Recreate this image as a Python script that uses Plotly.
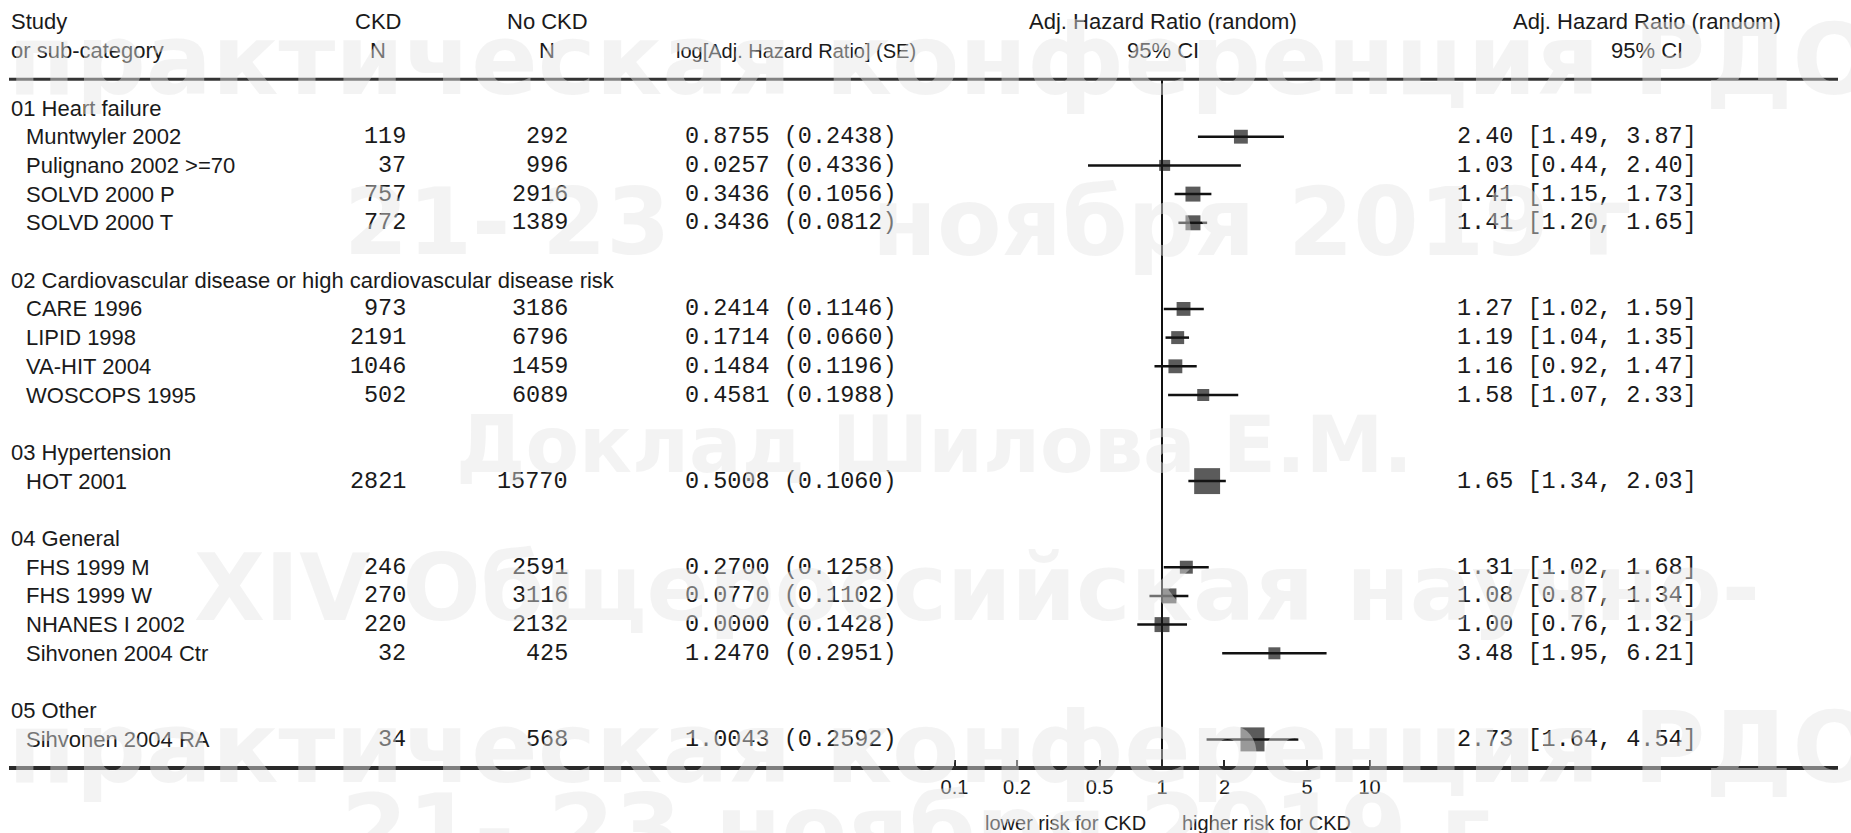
import plotly.graph_objects as go
import math

# ---------------- data ----------------
groups = [
    "01 Heart failure",
    "02 Cardiovascular disease or high cardiovascular disease risk",
    "03 Hypertension",
    "04 General",
    "05 Other",
]
study_group = [0, 0, 0, 0, 1, 1, 1, 1, 2, 3, 3, 3, 3, 4]
studies = [
    "Muntwyler 2002", "Pulignano 2002 >=70", "SOLVD 2000 P", "SOLVD 2000 T",
    "CARE 1996", "LIPID 1998", "VA-HIT 2004", "WOSCOPS 1995",
    "HOT 2001",
    "FHS 1999 M", "FHS 1999 W", "NHANES I 2002", "Sihvonen 2004 Ctr",
    "Sihvonen 2004 RA",
]
ckd_n = [119, 37, 757, 772, 973, 2191, 1046, 502, 2821, 246, 270, 220, 32, 34]
nockd_n = [292, 996, 2916, 1389, 3186, 6796, 1459, 6089, 15770, 2591, 3116, 2132, 425, 568]
log_hr = ["0.8755", "0.0257", "0.3436", "0.3436", "0.2414", "0.1714", "0.1484", "0.4581",
          "0.5008", "0.2700", "0.0770", "0.0000", "1.2470", "1.0043"]
log_se = ["0.2438", "0.4336", "0.1056", "0.0812", "0.1146", "0.0660", "0.1196", "0.1988",
          "0.1060", "0.1258", "0.1102", "0.1428", "0.2951", "0.2592"]
hr = [2.40, 1.03, 1.41, 1.41, 1.27, 1.19, 1.16, 1.58, 1.65, 1.31, 1.08, 1.00, 3.48, 2.73]
ci_low = [1.49, 0.44, 1.15, 1.20, 1.02, 1.04, 0.92, 1.07, 1.34, 1.02, 0.87, 0.76, 1.95, 1.64]
ci_high = [3.87, 2.40, 1.73, 1.65, 1.59, 1.35, 1.47, 2.33, 2.03, 1.68, 1.34, 1.32, 6.21, 4.54]
rel_weight = [12, 7.5, 14, 14, 12, 10.5, 12, 9, 42, 10.5, 14, 14, 9, 36]
axis_ticks = [0.1, 0.2, 0.5, 1, 2, 5, 10]
axis_ticktext = ["0.1", "0.2", "0.5", "1", "2", "5", "10"]

# watermark text pieces: (text, x px, anchor, y px, font size)
watermark = [
    ("практическая конференция РДО", 942, "center", 60, 98),
    ("21- 23", 342, "left", 222, 92),
    ("ноября 2019 г", 870, "left", 222, 94),
    ("Доклад Шилова Е.М.", 934, "center", 445, 78),
    ("XIV Общероссийская научно-", 977, "center", 588, 92),
    ("практическая конференция РДО", 942, "center", 748, 98),
    ("21- 23 ноября 2019 г", 915, "center", 830, 96),
]

# ---------------- layout geometry ----------------
W, H = 1851, 833
ROW0_PX, ROW_H = 108.0, 28.7
X1_PX, DEC_PX = 1162, 207.5
LINE_L, LINE_R = 9, 1838


def row_of_px(p):
    return (p - ROW0_PX) / ROW_H


def px_of_row(r):
    return ROW0_PX + ROW_H * r


def px(xpix):
    return xpix / W


# rows
group_rows = []
study_rows = []
r = 0
for g in range(len(groups)):
    group_rows.append(r)
    r += 1
    for i, sg in enumerate(study_group):
        if sg == g:
            study_rows.append((i, r))
            r += 1
    r += 1
bottom_row = r - 1  # axis line row
study_rows.sort()
rows = [rr for _, rr in study_rows]

SANS = "Liberation Sans, Arial, sans-serif"
MONO = "Liberation Mono, Courier New, monospace"
TXT = "#1a1a1a"
FS = 22
FM = 23.5

fig = go.Figure()

# CI lines
cx, cy = [], []
for i in range(len(studies)):
    cx += [ci_low[i], ci_high[i], None]
    cy += [rows[i], rows[i], None]
fig.add_trace(go.Scatter(x=cx, y=cy, mode="lines", line=dict(color="#111111", width=2.5),
                         hoverinfo="skip", showlegend=False))

# reference line at 1
fig.add_trace(go.Scatter(x=[1, 1], y=[-1, bottom_row], mode="lines",
                         line=dict(color="#111111", width=2), hoverinfo="skip", showlegend=False))

# boxes
fig.add_trace(go.Scatter(
    x=hr, y=rows, mode="markers",
    marker=dict(symbol="square", size=[4.0 * math.sqrt(w) for w in rel_weight],
                color="#151515", line=dict(width=0)),
    showlegend=False, hoverinfo="skip"))

ann = []


def add_text(text, xpix, row, anchor="left", font=SANS, size=FS):
    ann.append(dict(text=text, x=px(xpix), xref="paper", y=row, yref="y",
                    xanchor=anchor, yanchor="middle", showarrow=False,
                    font=dict(family=font, size=size, color=TXT)))


# headers
add_text("Study", 9, -3)
add_text("or sub-category", 9, -2)
add_text("CKD", 378, -3, "center")
add_text("N", 378, -2, "center")
add_text("No CKD", 547, -3, "center")
add_text("N", 547, -2, "center")
add_text("log[Adj. Hazard Ratio] (SE)", 796, -2, "center", SANS, 20)
add_text("Adj. Hazard Ratio (random)", 1163, -3, "center")
add_text("95% CI", 1163, -2, "center")
add_text("Adj. Hazard Ratio (random)", 1647, -3, "center")
add_text("95% CI", 1647, -2, "center")

for g, gr in enumerate(group_rows):
    add_text(groups[g], 9, gr)

for i in range(len(studies)):
    rr = rows[i]
    add_text(studies[i], 24, rr)
    add_text(str(ckd_n[i]), 408, rr, "right", MONO, FM)
    add_text(str(nockd_n[i]), 570, rr, "right", MONO, FM)
    add_text(f"{log_hr[i]} ({log_se[i]})", 683, rr, "left", MONO, FM)
    add_text(f"{hr[i]:.2f} [{ci_low[i]:.2f}, {ci_high[i]:.2f}]", 1455, rr, "left", MONO, FM)

# risk labels
add_text("lower risk for CKD", 1148, row_of_px(823), "right", SANS, 20)
add_text("higher risk for CKD", 1180, row_of_px(823), "left", SANS, 20)

# watermark on top
for text, xw, anc, yc, size in watermark:
    ann.append(dict(text=text, x=px(xw), xref="paper", y=1 - yc / H, yref="paper",
                    xanchor=anc, yanchor="middle", showarrow=False,
                    font=dict(family="DejaVu Sans", size=size, color="rgba(228,228,228,0.45)",
                              weight="bold")))

shapes = [dict(type="line", xref="paper", yref="y", x0=px(LINE_L), x1=px(LINE_R), y0=-1, y1=-1,
               line=dict(color="#333333", width=3))]

lo = -(X1_PX - LINE_L) / DEC_PX
hi = (LINE_R - X1_PX) / DEC_PX

fig.update_layout(
    width=W, height=H, margin=dict(l=0, r=0, t=0, b=0),
    paper_bgcolor="white", plot_bgcolor="white",
    annotations=ann, shapes=shapes,
    xaxis=dict(type="log", domain=[px(LINE_L), px(LINE_R)], range=[lo, hi],
               anchor="free", position=1 - px_of_row(bottom_row) / H,
               showline=True, linewidth=4, linecolor="#2a2a2a",
               ticks="inside", ticklen=6, tickwidth=2, tickcolor="#2a2a2a",
               tickvals=axis_ticks, ticktext=axis_ticktext,
               tickfont=dict(family=SANS, size=20, color=TXT),
               showgrid=False, zeroline=False, fixedrange=True),
    yaxis=dict(domain=[0, 1], range=[row_of_px(H), row_of_px(0)], visible=False,
               showgrid=False, zeroline=False, fixedrange=True),
    showlegend=False,
)

fig.write_html("out.html", config={"displayModeBar": False, "staticPlot": True},
               post_script="document.body.style.margin='0';document.body.style.overflow='hidden';")
